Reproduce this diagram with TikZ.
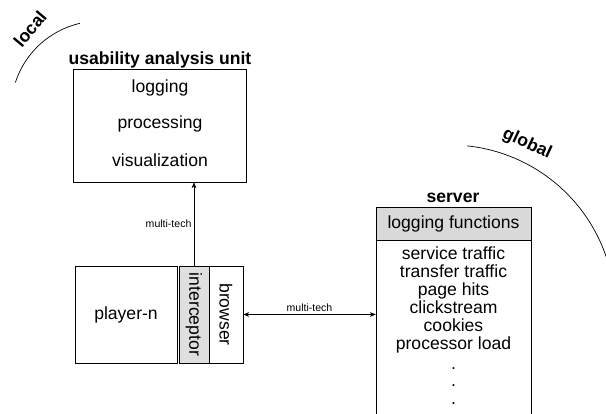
\documentclass[tikz,border=0pt]{standalone}
\usepackage{fontspec}
\setmainfont{Liberation Sans}
\usetikzlibrary{arrows.meta}
\tikzset{
  box/.style={draw, semithick, inner sep=0pt},
  lbl/.style={font=\fontsize{15}{15.2}\selectfont},
  ttl/.style={font=\bfseries\fontsize{15}{17}\selectfont},
  tech/.style={font=\fontsize{9}{10}\selectfont, inner sep=2pt},
  link/.style={thin, -{Stealth[length=5pt,width=4pt]}},
}
\begin{document}
\begin{tikzpicture}[x=0.03cm,y=-0.03cm]
  \useasboundingbox (0,0) rectangle (606,414);
  \clip (0,0) rectangle (606,414);

  % usability analysis unit
  \node[box, minimum width=5.19cm, minimum height=3.39cm] (unit) at (159.5,125.5) {};
  \node[ttl] (unittitle) at (160,60) {usability analysis unit};
  \node[lbl] (logg) at (160,88) {logging};
  \node[lbl] (proc) at (160,124) {processing};
  \node[lbl] (visu) at (160,160) {visualization};

  % player
  \node[box, lbl, minimum width=3.06cm, minimum height=2.91cm] (player) at (126,314.5) {player-n};
  \node[box, fill=gray!25, minimum width=0.9cm, minimum height=2.91cm] (icpt) at (194,314.5) {};
  \node[lbl, rotate=-90] (icpttext) at (icpt) {interceptor};
  \node[box, minimum width=1.02cm, minimum height=2.91cm] (brws) at (226,314.5) {};
  \node[lbl, rotate=-90] (brwstext) at (brws) {browser};

  % server
  \node[ttl] (srvtitle) at (453,198) {server};
  \node[box, minimum width=4.65cm, minimum height=6cm] (srv) at (453.5,340) {};
  \node[box, lbl, fill=gray!30, minimum width=4.65cm, minimum height=0.99cm] (srvhead) at (453.5,223.5) {logging functions};
  \node[lbl, align=center, anchor=north, inner sep=0pt] (srvlist) at (453.5,247)
    {service traffic\\transfer traffic\\page hits\\clickstream\\cookies\\processor load\\[2pt].\\.\\.};

  % connections
  \draw[link] (icpt.north) -- (icpt.north |- unit.south) node[tech, midway, left] (tech1) {multi-tech};
  \draw[thin, {Stealth[length=5pt,width=4pt]}-{Stealth[length=5pt,width=4pt]}] (brws.east) -- (brws.east -| srv.west) node[tech, midway, above] (tech2) {multi-tech};

  % local / global
  \draw[semithick] (100,110) ++(103:2.67cm) arc[start angle=103, end angle=162, radius=2.67cm];
  \node[ttl, rotate=50, inner sep=1pt] (loc) at (30,29) {local};
  \draw[semithick] (450,310) ++(84:4.95cm) arc[start angle=84, end angle=14, radius=4.95cm];
  \node[ttl, rotate=-25, inner sep=1pt] (glob) at (527,144) {global};
\end{tikzpicture}
\end{document}
